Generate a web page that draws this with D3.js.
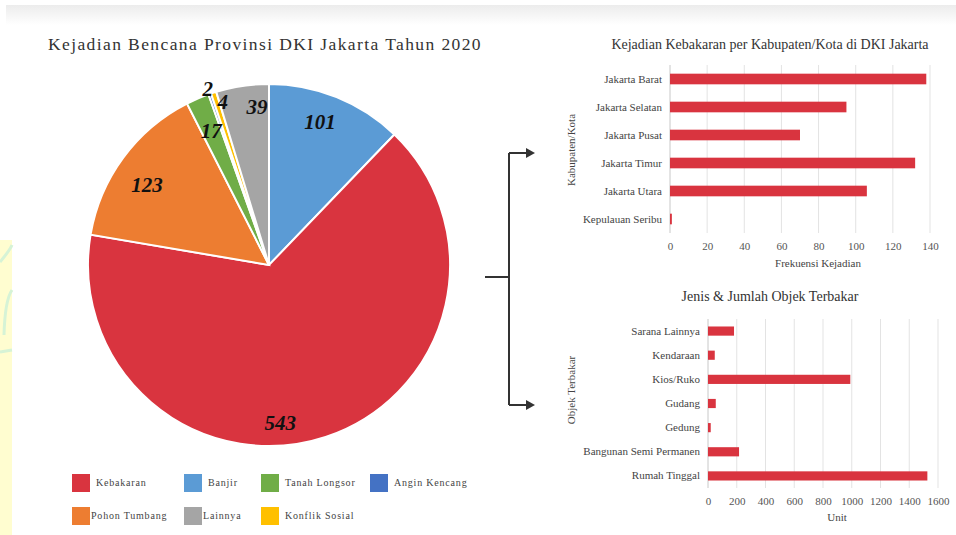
<!DOCTYPE html>
<html>
<head>
<meta charset="utf-8">
<script src="https://cdn.jsdelivr.net/npm/d3@7"></script>
<style>
  body { margin: 0; background: #fff; }
  svg text { font-family: "Liberation Serif", "DejaVu Serif", serif; }
</style>
</head>
<body>
<div id="chart"></div>
<script>
// pie data (clockwise from 12 o'clock)
var pieNames = ["Banjir", "Kebakaran", "Pohon Tumbang", "Tanah Longsor", "Angin Kencang", "Konflik Sosial", "Lainnya"]
var pieValues = [101, 543, 123, 17, 2, 4, 39]
var pieColors = ["#5b9bd5", "#d9343f", "#ed7d31", "#70ad47", "#4472c4", "#ffc000", "#a5a5a5"]
var legendOrder = ["Kebakaran", "Banjir", "Tanah Longsor", "Angin Kencang", "Pohon Tumbang", "Lainnya", "Konflik Sosial"]

// fires per city
var kotaNames = ["Jakarta Barat", "Jakarta Selatan", "Jakarta Pusat", "Jakarta Timur", "Jakarta Utara", "Kepulauan Seribu"]
var kotaValues = [138, 95, 70, 132, 106, 1]
var kotaTicks = [0, 20, 40, 60, 80, 100, 120, 140]

// burned objects
var objekNames = ["Sarana Lainnya", "Kendaraan", "Kios/Ruko", "Gudang", "Gedung", "Bangunan Semi Permanen", "Rumah Tinggal"]
var objekValues = [181, 47, 990, 54, 19, 216, 1526]
var objekTicks = [0, 200, 400, 600, 800, 1000, 1200, 1400, 1600]

var SERIF = "Liberation Serif, DejaVu Serif, serif"
var W = 956, H = 535
var svg = d3.select("#chart").append("svg").attr("width", W).attr("height", H).attr("font-family", SERIF)

// top shading band
var defs = svg.append("defs")
var grad = defs.append("linearGradient").attr("id", "topband").attr("x1", 0).attr("y1", 0).attr("x2", 0).attr("y2", 1)
grad.append("stop").attr("offset", "0%").attr("stop-color", "#ececec")
grad.append("stop").attr("offset", "100%").attr("stop-color", "#ffffff")
svg.append("rect").attr("x", 6).attr("y", 5).attr("width", W - 6).attr("height", 20).attr("fill", "url(#topband)")

// faint watermark strip at the left
svg.append("rect").attr("x", 0).attr("y", 240).attr("width", 12).attr("height", H - 240).attr("fill", "#fffdd0")
svg.append("path").attr("d", "M0,262 Q10,250 12,245").attr("stroke", "#d6f3d6").attr("stroke-width", 3).attr("fill", "none")
svg.append("path").attr("d", "M0,352 L12,350").attr("stroke", "#d6f3d6").attr("stroke-width", 3).attr("fill", "none")
svg.append("path").attr("d", "M4,335 Q5,300 12,290").attr("stroke", "#d6f3d6").attr("stroke-width", 3).attr("fill", "none")

// ---------------- pie ----------------
svg.append("text").attr("x", 265).attr("y", 50).attr("text-anchor", "middle")
  .attr("font-family", SERIF)
  .style("font-size", "17.5px").style("letter-spacing", "1.4px").attr("fill", "#333")
  .text("Kejadian Bencana Provinsi DKI Jakarta Tahun 2020")

var pieData = pieNames.map(function (n, i) { return { name: n, value: pieValues[i], color: pieColors[i] } })
var cx = 269, cy = 265, R = 181
var pie = d3.pie().value(function (d) { return d.value }).sort(null)
var arc = d3.arc().innerRadius(0).outerRadius(R)
var arcs = pie(pieData)

var gp = svg.append("g").attr("transform", "translate(" + cx + "," + cy + ")")
gp.selectAll("path").data(arcs).enter().append("path")
  .attr("d", arc)
  .attr("fill", function (d) { return d.data.color })
  .attr("stroke", "#fff").attr("stroke-width", 2)

// label placement: radius factor and angle nudge (degrees) per slice
var labelR = [0.84, 0.875, 0.806, 0.81, 1.034, 0.936, 0.876]
var labelA = [-2.3, 14.2, -3.1, 0, 0, 2, 4.1]
function labelAngle(d, i) { return (d.startAngle + d.endAngle) / 2 + labelA[i] * Math.PI / 180 }
gp.selectAll(".plab").data(arcs).enter().append("text")
  .attr("class", "plab")
  .attr("x", function (d, i) { return Math.sin(labelAngle(d, i)) * R * labelR[i] })
  .attr("y", function (d, i) { return -Math.cos(labelAngle(d, i)) * R * labelR[i] })
  .attr("dy", "0.35em")
  .attr("text-anchor", "middle")
  .attr("font-family", SERIF)
  .style("font-size", "21px").style("font-weight", "bold").style("font-style", "italic")
  .attr("fill", "#111")
  .text(function (d) { return d.value })

// legend
var legX = [72, 184, 261, 370]
var legendG = svg.append("g")
legendOrder.forEach(function (n, i) {
  var col = i % 4, row = Math.floor(i / 4)
  var color = pieColors[pieNames.indexOf(n)]
  var x = legX[col], y = 474 + row * 33
  legendG.append("rect").attr("x", x).attr("y", y).attr("width", 18).attr("height", 18).attr("fill", color)
  var tx = x + 24
  if (row == 1 && col < 2) tx = x + 19
  legendG.append("text").attr("x", tx).attr("y", y + 12).attr("font-family", SERIF)
    .style("font-size", "10px").style("letter-spacing", "0.8px").attr("fill", "#444").text(n)
})

// ---------------- connector arrows ----------------
var ag = svg.append("g").attr("stroke", "#333").attr("stroke-width", 2).attr("fill", "none")
ag.append("path").attr("d", "M485,277 L509,277 M509,153 L509,405 M509,153 L528,153 M509,405 L528,405")
svg.append("path").attr("d", "M526,148 L535,153 L526,158 Z").attr("fill", "#333")
svg.append("path").attr("d", "M526,400 L535,405 L526,410 Z").attr("fill", "#333")

// ---------------- bar chart helper ----------------
function barChart(opt) {
  var g = svg.append("g")
  var x = d3.scaleLinear().domain([0, opt.max]).range([opt.x0, opt.x1])
  var y = d3.scaleBand().domain(opt.names).range([opt.y0, opt.y1]).paddingInner(0.62).paddingOuter(0.31)

  g.append("text").attr("x", opt.titleX).attr("y", opt.titleY).attr("text-anchor", "middle")
    .attr("font-family", SERIF)
    .style("font-size", "14px").attr("fill", "#333").text(opt.title)

  g.selectAll(".grid").data(opt.ticks).enter().append("line")
    .attr("x1", function (d) { return x(d) }).attr("x2", function (d) { return x(d) })
    .attr("y1", opt.y0).attr("y2", opt.y1)
    .attr("stroke", function (d) { return d == 0 ? "#c8c8c8" : "#e3e3e3" }).attr("stroke-width", 1)

  g.selectAll(".bar").data(opt.values).enter().append("rect")
    .attr("x", x(0))
    .attr("y", function (d, i) { return y(opt.names[i]) })
    .attr("width", function (d) { return x(d) - x(0) })
    .attr("height", y.bandwidth())
    .attr("fill", "#d9343f")

  var xa = g.append("g").attr("transform", "translate(0," + opt.y1 + ")")
    .call(d3.axisBottom(x).tickValues(opt.ticks).tickFormat(d3.format("d")).tickSize(0).tickPadding(opt.tickPad))
  xa.attr("font-family", SERIF)
  xa.select(".domain").remove()
  xa.selectAll("text").attr("font-family", SERIF).style("font-size", "11px").attr("fill", "#555")

  var ya = g.append("g").attr("transform", "translate(" + opt.x0 + ",0)")
    .call(d3.axisLeft(y).tickSize(0).tickPadding(8))
  ya.attr("font-family", SERIF)
  ya.select(".domain").remove()
  ya.selectAll("text").attr("font-family", SERIF).style("font-size", "11px").attr("fill", "#444")

  g.append("text").attr("x", opt.xTitleX).attr("y", opt.xTitleY).attr("text-anchor", "middle")
    .attr("font-family", SERIF)
    .style("font-size", "11px").attr("fill", "#444").text(opt.xTitle)
  g.append("text").attr("transform", "translate(" + opt.yTitleX + "," + opt.yTitleY + ") rotate(-90)")
    .attr("font-family", SERIF)
    .attr("text-anchor", "middle").style("font-size", "11px").attr("fill", "#444").text(opt.yTitle)
}

barChart({
  names: kotaNames, values: kotaValues, ticks: kotaTicks, max: 140,
  x0: 670, x1: 930, y0: 65, y1: 233, tickPad: 9,
  title: "Kejadian Kebakaran per Kabupaten/Kota di DKI Jakarta", titleX: 770, titleY: 49,
  xTitle: "Frekuensi Kejadian", xTitleX: 818, xTitleY: 267,
  yTitle: "Kabupaten/Kota", yTitleX: 575, yTitleY: 150
})

barChart({
  names: objekNames, values: objekValues, ticks: objekTicks, max: 1600,
  x0: 708, x1: 938, y0: 319, y1: 488, tickPad: 9,
  title: "Jenis & Jumlah Objek Terbakar", titleX: 770, titleY: 301,
  xTitle: "Unit", xTitleX: 837, xTitleY: 521,
  yTitle: "Objek Terbakar", yTitleX: 575, yTitleY: 390
})
</script>
</body>
</html>
